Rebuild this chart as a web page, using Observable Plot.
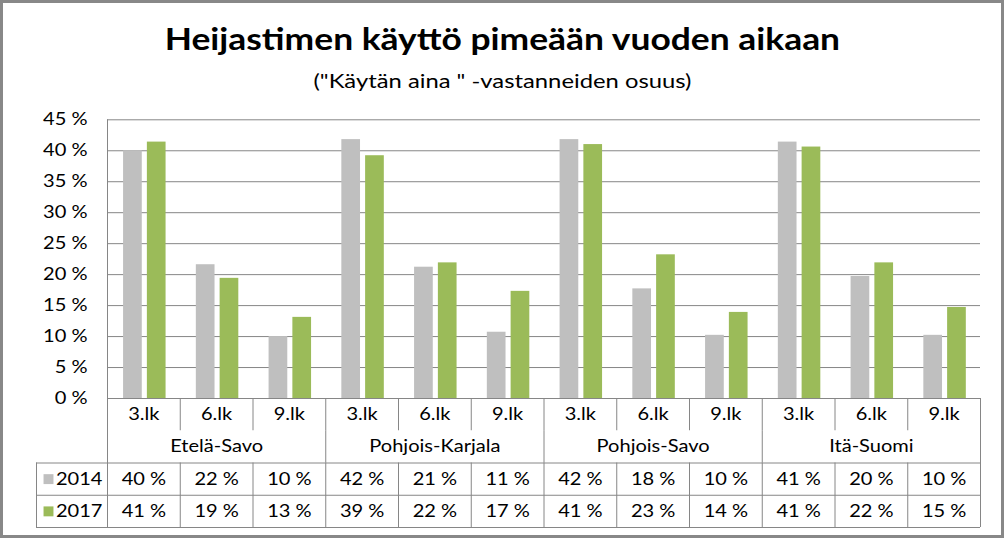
<!DOCTYPE html>
<html>
<head>
<meta charset="utf-8">
<script src="https://cdn.jsdelivr.net/npm/d3@7"></script>
<script src="https://cdn.jsdelivr.net/npm/@observablehq/plot@0.6"></script>
<style>
  html, body { margin: 0; padding: 0; background: #fff; }
  #frame { position: relative; width: 1004px; height: 538px; box-sizing: border-box; border: 3px solid #888888; background: #fff; font-family: Lato, "Open Sans", sans-serif; overflow: hidden; }
  #title { position: absolute; left: 0; right: 0; top: 19.7px; text-align: center; font-weight: bold; font-size: 30px; line-height: 30px; color: #000; white-space: nowrap; transform: scaleX(1.18); transform-origin: 497px 0; }
  #subtitle { position: absolute; left: 0; right: 0; top: 68px; text-align: center; font-size: 19.5px; line-height: 19.5px; color: #000; white-space: nowrap; transform: scaleX(1.22); transform-origin: 497px 0; }
  #chart { position: absolute; left: 0; top: 100px; }
</style>
</head>
<body>
<div id="frame">
  <div id="title">Heijastimen käyttö pimeään vuoden aikaan</div>
  <div id="subtitle">("Käytän aina " -vastanneiden osuus)</div>
  <div id="chart"></div>
</div>
<script>
// ---- data ----
const regions = ["Etelä-Savo", "Pohjois-Karjala", "Pohjois-Savo", "Itä-Suomi"];
const grades = ["3.lk", "6.lk", "9.lk"];
const years = ["2014", "2017"];
const values2014 = [40.0, 21.6, 10.0, 41.8, 21.2, 10.7, 41.8, 17.7, 10.2, 41.4, 19.7, 10.2];
const values2017 = [41.4, 19.4, 13.1, 39.2, 21.9, 17.3, 41.0, 23.2, 13.9, 40.6, 21.9, 14.7];
const yTicks = [0, 5, 10, 15, 20, 25, 30, 35, 40, 45];

// ---- derived table ----
const categories = regions.flatMap((r, ri) => grades.map((g, gi) => ({region: r, grade: g, i: ri * grades.length + gi})));
const bars = categories.flatMap(c => [
  {i: c.i, year: "2014", value: values2014[c.i]},
  {i: c.i, year: "2017", value: values2017[c.i]}
]);

// ---- layout ----
const W = 998, H = 432;
const marginLeft = 104, marginRight = 21, marginTop = 16.3, marginBottom = 8;
const plotPx = 278.7, tablePx = 129;
const yMax = 45;
const yMin = -yMax * tablePx / plotPx;
const rowU = -yMin / 4;
const n = categories.length;
const legendX = -71 / ((W - marginLeft - marginRight) / n);
const colors = {"2014": "#BFBFBF", "2017": "#9BBB59"};
const lineColor = "#868686";
const barW = 0.257, barGap = 0.07, groupCenter = 0.513;
const offs = {"2014": groupCenter - barGap / 2 - barW, "2017": groupCenter + barGap / 2};
const fontFamily = getComputedStyle(document.getElementById("frame")).fontFamily;
const fs = 17;
const textStretch = 1.18;

// table line segments
const boundaries = d3.range(1, n);
const regionBounds = boundaries.filter(b => b % grades.length === 0);
const vSegs = [
  ...boundaries.map(b => ({x: b, y1: 0, y2: -rowU})),
  ...regionBounds.map(b => ({x: b, y1: -rowU, y2: -2 * rowU})),
  ...boundaries.map(b => ({x: b, y1: -2 * rowU, y2: -4 * rowU})),
  {x: 0, y1: yMin, y2: yMax},
  {x: n, y1: 0, y2: yMin},
  {x: legendX, y1: -2 * rowU, y2: -4 * rowU}
];
const hSegs = [2, 3, 4].map(k => ({y: -k * rowU, x1: legendX, x2: n}));

const rowsText = years.map((yr, k) => ({year: yr, y: -(2.5 + k) * rowU}));
const valueCells = bars.map(b => ({...b, y: -(2.5 + years.indexOf(b.year)) * rowU}));

const chart = Plot.plot({
  width: W, height: H,
  marginLeft, marginRight, marginTop, marginBottom,
  style: {fontFamily, fontSize: fs + "px", color: "#000", background: "transparent"},
  x: {type: "linear", domain: [0, n], axis: null},
  y: {type: "linear", domain: [yMin, yMax], axis: null},
  marks: [
    Plot.ruleY(yTicks, {x1: 0, x2: n, stroke: lineColor, strokeWidth: 1}),
    Plot.rectY(bars, {x1: d => d.i + offs[d.year], x2: d => d.i + offs[d.year] + barW, y1: 0, y2: "value", fill: d => colors[d.year]}),
    Plot.axisY({ticks: yTicks, tickFormat: d => d + " %", tickSize: 0, tickPadding: 20, label: null, fontSize: fs, anchor: "left"}),
    Plot.ruleX(vSegs, {x: "x", y1: "y1", y2: "y2", stroke: lineColor}),
    Plot.ruleY(hSegs, {y: "y", x1: "x1", x2: "x2", stroke: lineColor}),
    Plot.text(categories, {x: d => d.i + 0.5, y: -0.5 * rowU, text: "grade", fontSize: fs, fill: "#000"}),
    Plot.text(regions, {x: (d, ri) => ri * grades.length + grades.length / 2, y: -1.5 * rowU, text: d => d, fontSize: fs, fill: "#000"}),
    Plot.text(valueCells, {x: d => d.i + 0.5, y: "y", text: d => Math.round(d.value) + " %", fontSize: fs, fill: "#000"}),
    Plot.text(rowsText, {x: 0, y: "y", text: "year", textAnchor: "end", dx: -5, fontSize: fs, fill: "#000"}),
    Plot.dot(rowsText, {x: 0, y: "y", dx: -59, symbol: "square", r: 5.6, fill: d => colors[d.year], stroke: null})
  ]
});

// widen the glyphs horizontally around each text's anchor point (the reference text is stretched)
chart.querySelectorAll("text").forEach(t => {
  let tr = t.getAttribute("transform") || "";
  const xa = t.getAttribute("x");
  if (xa !== null && /^-?[\d.]+$/.test(xa.trim()) && +xa !== 0) {
    tr += ` translate(${+xa},0)`;
    t.setAttribute("x", 0);
  }
  t.setAttribute("transform", `${tr} scale(${textStretch},1)`.trim());
});
document.getElementById("chart").appendChild(chart);
</script>
</body>
</html>
